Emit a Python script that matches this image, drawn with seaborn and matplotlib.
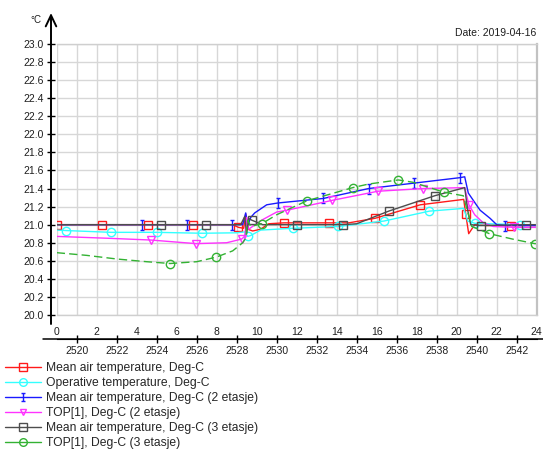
import numpy as np
import matplotlib
matplotlib.use("Agg")
import matplotlib.pyplot as plt
import seaborn as sns
from matplotlib.lines import Line2D
from matplotlib.path import Path
from matplotlib.patches import FancyArrowPatch
from matplotlib.ticker import MultipleLocator

sns.set_style("white")
plt.rcParams["font.family"] = ["Liberation Sans", "DejaVu Sans"]

# ---------------- data ----------------
hour_ticks = [0, 2, 4, 6, 8, 10, 12, 14, 16, 18, 20, 22, 24]
hour_of_year_ticks = [2520, 2522, 2524, 2526, 2528, 2530, 2532, 2534, 2536, 2538, 2540, 2542]
y_ticks = [20.0, 20.2, 20.4, 20.6, 20.8, 21.0, 21.2, 21.4, 21.6, 21.8,
           22.0, 22.2, 22.4, 22.6, 22.8, 23.0]
date_text = "Date: 2019-04-16"

labels = [
    "Mean air temperature, Deg-C",
    "Operative temperature, Deg-C",
    "Mean air temperature, Deg-C (2 etasje)",
    "TOP[1], Deg-C (2 etasje)",
    "Mean air temperature, Deg-C (3 etasje)",
    "TOP[1], Deg-C (3 etasje)",
]

# Mean air temperature (red)
red_t = [0, 2.27, 4.55, 6.82, 8.8, 9.09, 9.35, 9.45, 9.55, 9.8, 10.2, 10.6, 11.36,
         13.64, 14.6, 15.91, 18.18, 20.35, 20.45, 20.6, 20.9, 21.5, 22.73, 24]
red_v = [21.0, 21.0, 21.0, 21.0, 21.0, 20.97, 20.96, 21.12, 20.95, 20.93, 20.95, 21.01, 21.02,
         21.02, 21.02, 21.07, 21.22, 21.28, 21.12, 20.90, 21.0, 20.99, 20.99, 20.99]
red_marks = [0, 2.27, 4.55, 6.82, 9.09, 11.36, 13.64, 15.91, 18.18, 20.45, 22.73]

# Operative temperature (cyan)
cyan_t = [0, 0.45, 2.73, 5.0, 7.27, 9.0, 9.4, 9.55, 9.7, 10.2, 11.82, 14.09, 16.36,
          18.64, 20.35, 20.55, 20.91, 23.18, 24]
cyan_v = [20.94, 20.935, 20.915, 20.915, 20.905, 20.91, 20.92, 20.87, 20.88, 20.94, 20.96,
          20.98, 21.04, 21.15, 21.18, 21.04, 21.015, 21.0, 21.0]
cyan_marks = [0.45, 2.73, 5.0, 7.27, 9.55, 11.82, 14.09, 16.36, 18.64, 20.91, 23.18]

# Mean air temperature (2 etasje) (blue)
blue_t = [0, 4.25, 6.52, 8.79, 9.3, 9.45, 9.55, 9.7, 9.9, 10.5, 11.06, 13.33, 15.6,
          17.87, 20.15, 20.4, 20.58, 20.92, 21.17, 21.67, 22.0, 22.42, 24]
blue_v = [21.0, 21.0, 21.0, 21.0, 21.0, 21.13, 20.99, 21.08, 21.13, 21.22, 21.24, 21.29, 21.40,
          21.46, 21.52, 21.53, 21.35, 21.24, 21.16, 21.07, 21.0, 20.99, 20.99]
blue_marks = [4.25, 6.52, 8.79, 11.06, 13.33, 15.6, 17.87, 20.15, 22.42]

# TOP[1] (2 etasje) (magenta)
mag_t = [0, 2.5, 4.7, 6.97, 8.5, 9.24, 9.4, 9.5, 9.6, 10.25, 11.0, 11.52, 13.79, 16.06,
         18.33, 20.4, 20.61, 20.9, 21.33, 21.83, 22.88, 24]
mag_v = [20.87, 20.85, 20.83, 20.79, 20.80, 20.84, 20.87, 21.08, 20.95, 21.05, 21.14, 21.16,
         21.27, 21.37, 21.40, 21.41, 21.22, 21.11, 21.02, 20.98, 20.97, 20.97]
mag_marks = [4.7, 6.97, 9.24, 11.52, 13.79, 16.06, 18.33, 20.61, 22.88]

# Mean air temperature (3 etasje) (dark grey)
blk_t = [0, 5.2, 7.45, 9.2, 9.4, 9.5, 9.6, 9.75, 10.3, 12.0, 14.3, 15.0, 16.6, 18.9,
         20.4, 20.55, 20.7, 21.2, 23.45, 24]
blk_v = [21.0, 21.0, 21.0, 21.0, 21.09, 20.90, 21.07, 21.05, 21.0, 21.0, 21.0, 21.01, 21.15,
         21.32, 21.41, 21.16, 21.0, 20.99, 21.0, 21.0]
blk_marks = [5.2, 7.45, 9.75, 12.0, 14.3, 16.6, 18.9, 21.2, 23.45]

# TOP[1] (3 etasje) (green, dashed)
grn_t = [0, 1.5, 3.0, 4.5, 5.67, 7.0, 7.97, 8.8, 9.3, 9.45, 9.55, 9.7, 10.25, 11.0, 12.52,
         14.8, 15.6, 17.08, 17.8, 19.36, 20.33, 20.55, 20.75, 21.64, 22.8, 23.9, 24]
grn_v = [20.69, 20.66, 20.62, 20.59, 20.57, 20.59, 20.64, 20.71, 20.80, 20.85, 21.05, 20.98,
         21.01, 21.11, 21.265, 21.41, 21.45, 21.495, 21.47, 21.36, 21.32, 21.14, 20.98, 20.90,
         20.84, 20.79, 20.79]
grn_marks = [5.67, 7.97, 10.25, 12.52, 14.8, 17.08, 19.36, 21.64, 23.9]

hour_offset = 2519  # hour-of-year at hour 0 of the day

# ---------------- figure ----------------
W, H = 543, 451
fig = plt.figure(figsize=(W / 100, H / 100), dpi=100)
ax = fig.add_axes([56.7 / W, 1 - 315 / H, 480 / W, 271 / H])

ibar = Path([(-0.4, 1), (0.4, 1), (0, 1), (0, -1), (-0.4, -1), (0.4, -1)],
            [Path.MOVETO, Path.LINETO, Path.MOVETO, Path.LINETO, Path.MOVETO, Path.LINETO])

styles = [
    (red_t, red_v, red_marks, "#ff1a1a", "s", 6.0, "-"),
    (cyan_t, cyan_v, cyan_marks, "#33ffff", "o", 6.0, "-"),
    (blue_t, blue_v, blue_marks, "#1a1aff", ibar, 6.5, "-"),
    (mag_t, mag_v, mag_marks, "#ff33ff", "v", 5.5, "-"),
    (blk_t, blk_v, blk_marks, "#4d4d4d", "s", 6.0, "-"),
    (grn_t, grn_v, grn_marks, "#33b233", "o", 6.0, (0, (6, 3))),
]

handles = []
for (t, v, marks, col, mk, ms, ls), lab in zip(styles, labels):
    t = np.asarray(t, float)
    mask = [bool(np.any(np.isclose(x, marks))) for x in t]
    sns.lineplot(x=t, y=np.asarray(v, float), ax=ax, color=col, linewidth=1.0,
                 linestyle=ls, marker=mk, markersize=ms, markevery=mask,
                 markerfacecolor="none", markeredgecolor=col, markeredgewidth=1.0,
                 sort=False, estimator=None, errorbar=None, legend=False)
    handles.append(Line2D([], [], color=col, lw=1.0, marker=mk, markersize=ms - 0.5,
                          markerfacecolor="none", markeredgecolor=col, markeredgewidth=1.0))

ax.set_xlim(0, 24)
ax.set_ylim(20, 23)
ax.set_xlabel("")
ax.set_ylabel("")

ax.set_xticks(hour_ticks)
ax.set_xticklabels([str(h) for h in hour_ticks])
ax.xaxis.set_minor_locator(MultipleLocator(1))
ax.tick_params(axis="x", which="both", length=0, pad=8.5, labelsize=7.5, labelcolor="#1e1e1e")

ax.set_yticks(y_ticks)
ax.set_yticklabels([f"{y:.1f}" for y in y_ticks])
ax.spines["left"].set_position(("outward", 4.1))
ax.spines["left"].set_visible(False)
ax.tick_params(axis="y", direction="inout", length=5.8, width=1.0, color="black",
               pad=2.5, labelsize=7.5, labelcolor="#1e1e1e", left=True)

ax.grid(True, which="both", color="#d7d7d7", linewidth=1.0)
ax.set_axisbelow(True)
for s in ["top", "bottom"]:
    ax.spines[s].set_color("#cfcfcf")
    ax.spines[s].set_linewidth(1.0)
ax.spines["right"].set_color("#c2c2c2")
ax.spines["right"].set_linewidth(1.6)

# secondary hour-of-year axis
sec = ax.secondary_xaxis(-(339 - 315) / 271,
                         functions=(lambda h: h + hour_offset, lambda x: x - hour_offset))
sec.set_xticks(hour_of_year_ticks)
sec.set_xticklabels([str(x) for x in hour_of_year_ticks])
sec.tick_params(direction="inout", length=6, width=1.0, color="black", pad=2,
                labelsize=7.5, labelcolor="#1e1e1e")
sec.spines["bottom"].set_color("black")
fig.add_artist(Line2D([43 / W, 1.0], [1 - 339 / H, 1 - 339 / H], transform=fig.transFigure,
                      color="black", lw=1.1))

# y axis line with arrow
fig.add_artist(FancyArrowPatch((51 / W, 1 - 324 / H), (51 / W, 1 - 13 / H),
                               transform=fig.transFigure,
                               arrowstyle="->,head_length=0.8,head_width=0.38",
                               mutation_scale=10, lw=1.4, color="black",
                               shrinkA=0, shrinkB=0))
fig.text(36 / W, 1 - 20 / H, "°C", fontsize=7, ha="center", va="center", color="#1e1e1e")
fig.text(536 / W, 1 - 33 / H, date_text, fontsize=7.5, ha="right", va="center", color="#1e1e1e")

fig.legend(handles, labels, loc="upper left", bbox_to_anchor=(5 / W, 1 - 362 / H),
           frameon=False, fontsize=8.7, handlelength=3.0, handletextpad=0.4,
           labelspacing=0.25, borderpad=0, borderaxespad=0)

fig.savefig("out.png", dpi=100)
